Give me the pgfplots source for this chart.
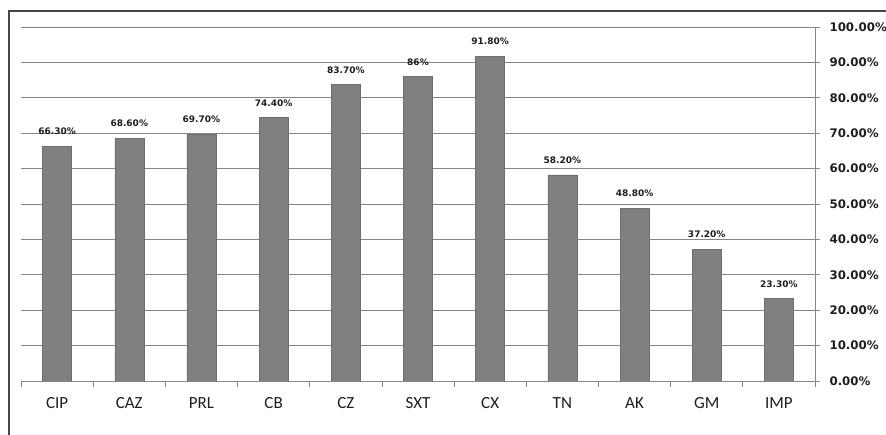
\documentclass[border=0pt]{standalone}
\usepackage{pgfplots}
\pgfplotsset{compat=1.18}
\usepackage{fontspec}
\setmainfont{Carlito}
\newfontfamily\dv{DejaVu Sans}
\definecolor{barc}{RGB}{128,128,128}
\definecolor{bare}{RGB}{110,110,110}
\definecolor{gridc}{RGB}{134,134,134}
\definecolor{txt}{RGB}{30,30,30}
\begin{document}
\begin{tikzpicture}[x=1pt,y=1pt]
\useasboundingbox (0,0) rectangle (886,435);
\draw[line width=1.3pt, color={rgb,255:red,70;green,70;blue,70}] (9,-5) -- (9,424) -- (900,424);
\begin{axis}[
  at={(21pt,54pt)}, anchor=south west,
  scale only axis, width=794pt, height=354pt,
  xmin=-0.5, xmax=10.5, ymin=0, ymax=100,
  axis x line*=bottom, axis y line*=right,
  axis line style={-, draw=gridc, line width=0.8pt},
  xtick={0,...,10},
  xticklabels={CIP,CAZ,PRL,CB,CZ,SXT,CX,TN,AK,GM,IMP},
  major x tick style={draw=none},
  minor xtick={-0.5,0.5,...,10.5},
  minor tick length=6pt,
  tick align=outside,
  ytick={0,10,...,100},
  yticklabels={0.00\%,10.00\%,20.00\%,30.00\%,40.00\%,50.00\%,60.00\%,70.00\%,80.00\%,90.00\%,100.00\%},
  major tick length=5pt,
  tick style={draw=gridc, line width=0.8pt},
  ymajorgrids, grid style={draw=gridc, line width=0.8pt},
  xticklabel style={font=\fontsize{17}{17}\selectfont, text=txt, yshift=-8pt},
  yticklabel style={font=\dv\bfseries\fontsize{11.8}{12}\selectfont, text=txt, anchor=west, xshift=6pt},
  point meta=explicit symbolic,
  nodes near coords,
  every node near coord/.append style={font=\dv\bfseries\fontsize{9}{9}\selectfont, text=txt, anchor=south, inner sep=0pt, yshift=11pt},
]
\addplot[ybar, bar width=29pt, fill=barc, draw=bare, line width=0.5pt] coordinates {
  (0,66.3) [66.30\%]
  (1,68.6) [68.60\%]
  (2,69.7) [69.70\%]
  (3,74.4) [74.40\%]
  (4,83.7) [83.70\%]
  (5,86.0) [86\%]
  (6,91.8) [91.80\%]
  (7,58.2) [58.20\%]
  (8,48.8) [48.80\%]
  (9,37.2) [37.20\%]
  (10,23.3) [23.30\%]
};
\end{axis}
\end{tikzpicture}
\end{document}
